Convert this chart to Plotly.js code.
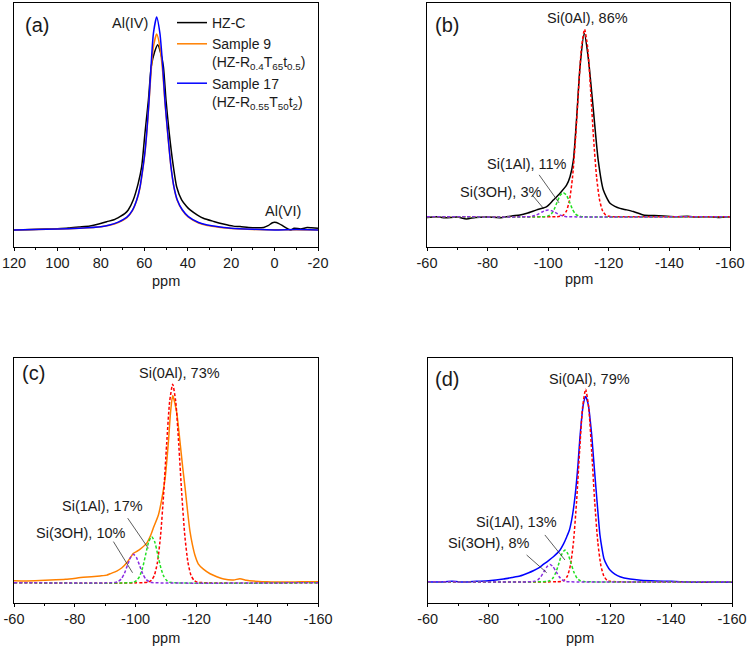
<!DOCTYPE html>
<html>
<head>
<meta charset="utf-8">
<script src="https://cdn.plot.ly/plotly-3.0.1.min.js"></script>
<style>
  html, body { margin: 0; padding: 0; background: #ffffff; }
  #chart { width: 750px; height: 650px; }
</style>
</head>
<body>
<div id="chart"></div>
<script>
// ---------- (a) 27Al MAS NMR ----------
const alPpmS = [120, 110, 100, 90, 80, 76, 72, 68, 65.5, 63.5, 62, 60.4, 59.6, 58.9, 57.8, 56.9, 55.8, 54.3, 52.8, 51.5, 50.5, 49.2, 47.7, 46.3, 44.8, 42.5, 39.7, 35, 31, 25, 20, 10, 0, -10, -20];
const alSample17 = [0.0, 0.002, 0.004, 0.008, 0.015, 0.023, 0.037, 0.06, 0.092, 0.141, 0.2, 0.31, 0.375, 0.454, 0.61, 0.767, 0.923, 1.0, 0.923, 0.767, 0.61, 0.454, 0.297, 0.2, 0.141, 0.095, 0.063, 0.035, 0.023, 0.014, 0.008, 0.003, 0.0, 0.002, 0.0];
const alSample9 = [0.0, 0.002, 0.004, 0.008, 0.015, 0.022, 0.035, 0.058, 0.09, 0.138, 0.197, 0.305, 0.37, 0.45, 0.6, 0.74, 0.86, 0.92, 0.86, 0.74, 0.6, 0.45, 0.295, 0.198, 0.138, 0.092, 0.06, 0.033, 0.021, 0.012, 0.007, 0.002, 0.001, 0.001, 0.0];
const alPpmC = [120, 112, 105, 100, 95, 90, 85, 81, 77.3, 74, 71.2, 69, 67.4, 65.1, 62.8, 61.2, 59.7, 58.1, 56.8, 55.3, 53.8, 52.3, 51.2, 50.0, 48.5, 46.6, 45.1, 42.8, 40.5, 38.9, 35.5, 32.8, 28, 23.6, 19, 15.9, 12, 8, 5, 3, 1, 0, -2, -4, -6, -7.5, -9, -12, -15, -17, -20];
const alHZC = [0.0, 0.002, 0.004, 0.006, 0.009, 0.014, 0.019, 0.028, 0.039, 0.048, 0.063, 0.077, 0.094, 0.141, 0.219, 0.297, 0.454, 0.61, 0.767, 0.835, 0.87, 0.825, 0.767, 0.61, 0.454, 0.297, 0.203, 0.141, 0.11, 0.094, 0.07, 0.055, 0.04, 0.028, 0.018, 0.016, 0.012, 0.01, 0.012, 0.02, 0.034, 0.036, 0.03, 0.018, 0.006, 0.0, 0.008, 0.005, 0.011, 0.01, 0.008];
const alTickVals = [120, 100, 80, 60, 40, 20, 0, -20];
const alTickText = ['120', '100', '80', '60', '40', '20', '0', '-20'];

// ---------- (b) HZ-C, 29Si ----------
const siPpmB = [-60, -63, -66, -70, -73, -76, -80, -84, -88, -90.7, -93, -96.2, -99.5, -101.7, -103.9, -106.1, -107.2, -108.3, -109.4, -110.5, -111.9, -113.2, -114.9, -116.5, -118.2, -120.4, -122, -123.7, -125.9, -128.1, -131.4, -135, -138, -142, -146, -149, -153, -156, -160];
const siHZC = [-0.004, 0.0, -0.006, -0.002, -0.012, -0.004, -0.002, -0.006, 0.004, 0.009, 0.018, 0.036, 0.053, 0.089, 0.125, 0.169, 0.213, 0.3, 0.53, 0.8, 0.978, 0.85, 0.57, 0.302, 0.142, 0.071, 0.055, 0.044, 0.036, 0.027, 0.009, 0.006, 0.004, 0.0, 0.002, -0.002, 0.0, -0.004, 0.0];
const fitPpm0AlB = [-60, -103, -104, -105, -106, -107, -108, -109, -110, -111, -112, -113, -114, -115, -116, -117, -118, -119, -120, -121, -160];
const fit0AlB = [0, 0, 0.002, 0.008, 0.029, 0.085, 0.206, 0.411, 0.674, 0.906, 1.0, 0.906, 0.674, 0.411, 0.206, 0.085, 0.029, 0.008, 0.002, 0, 0];
const fitPpm1AlB = [-60, -99, -100, -101, -102, -103, -104, -105, -106, -107, -108, -109, -110, -111, -160];
const fit1AlB = [0, 0, 0.004, 0.014, 0.04, 0.08, 0.115, 0.128, 0.115, 0.08, 0.04, 0.014, 0.004, 0, 0];
const fitPpm3OHB = [-60, -94, -95, -96, -97, -98, -99, -100, -101, -102, -103, -104, -105, -106, -160];
const fit3OHB = [0, 0, 0.003, 0.008, 0.016, 0.025, 0.032, 0.035, 0.032, 0.025, 0.016, 0.008, 0.003, 0, 0];

// ---------- (c) Sample 9, 29Si ----------
const siPpmC = [-60, -64, -68.5, -72, -77, -82.8, -88.3, -90.5, -91.6, -93.8, -95.5, -97.1, -99.3, -100.4, -101.4, -103.6, -105, -105.8, -107.5, -108.6, -109.7, -110.8, -111.5, -112.2, -113.5, -114.6, -115.5, -116.3, -117.1, -117.9, -118.7, -119.5, -120.6, -122.3, -124.5, -126.7, -129, -132.2, -134.3, -136.5, -138.7, -143, -148.6, -154, -160];
const siSample9 = [0.01, 0.009, 0.011, 0.013, 0.017, 0.027, 0.034, 0.038, 0.045, 0.058, 0.075, 0.1, 0.148, 0.158, 0.168, 0.198, 0.24, 0.274, 0.341, 0.42, 0.526, 0.711, 0.86, 0.943, 0.86, 0.711, 0.58, 0.475, 0.36, 0.257, 0.19, 0.139, 0.095, 0.068, 0.045, 0.03, 0.018, 0.013, 0.02, 0.012, 0.008, 0.005, 0.003, 0.004, 0.005];
const fitPpm0AlC = [-60, -104.2, -105.2, -106.2, -107.2, -108.2, -109.2, -110.2, -111.2, -112.2, -113.2, -114.2, -115.2, -116.2, -117.2, -118.2, -119.2, -120.2, -160];
const fit0AlC = [0, 0.003, 0.012, 0.038, 0.104, 0.235, 0.443, 0.696, 0.913, 1.0, 0.913, 0.696, 0.443, 0.235, 0.104, 0.038, 0.012, 0.003, 0];
const fitPpm1AlC = [-60, -99.3, -100.3, -101.3, -102.3, -103.3, -104.3, -105.3, -106.3, -107.3, -108.3, -109.3, -110.3, -111.3, -160];
const fit1AlC = [0, 0.002, 0.01, 0.031, 0.075, 0.141, 0.205, 0.232, 0.205, 0.141, 0.075, 0.031, 0.01, 0.002, 0];
const fitPpm3OHC = [-60, -93.3, -94.3, -95.3, -96.3, -97.3, -98.3, -99.3, -100.3, -101.3, -102.3, -103.3, -104.3, -105.3, -160];
const fit3OHC = [0, 0.001, 0.006, 0.019, 0.046, 0.087, 0.126, 0.143, 0.126, 0.087, 0.046, 0.019, 0.006, 0.001, 0];

// ---------- (d) Sample 17, 29Si ----------
const siPpmD = [-60, -64, -68, -72, -76, -80, -84.9, -87.7, -90.3, -93.2, -94.7, -96.5, -98, -99.7, -101.3, -103.5, -104.6, -105.7, -106.6, -107.3, -108, -108.7, -109.4, -110, -110.6, -111.1, -111.9, -112.8, -113.4, -113.9, -114.6, -115.3, -116, -116.6, -117.3, -117.9, -118.9, -119.9, -121.5, -123.2, -126.5, -130, -135, -140, -143, -148.5, -154, -160];
const siSample17 = [0.0, -0.002, 0.002, -0.002, 0.002, 0.005, 0.014, 0.022, 0.03, 0.047, 0.057, 0.072, 0.09, 0.11, 0.13, 0.165, 0.195, 0.234, 0.27, 0.32, 0.39, 0.485, 0.61, 0.745, 0.85, 0.918, 0.962, 0.918, 0.84, 0.762, 0.62, 0.485, 0.35, 0.243, 0.17, 0.121, 0.085, 0.061, 0.04, 0.026, 0.014, 0.008, 0.004, 0.002, 0.0, -0.003, -0.002, -0.003];
const fitPpm0AlD = [-60, -103.9, -104.9, -105.9, -106.9, -107.9, -108.9, -109.9, -110.9, -111.9, -112.9, -113.9, -114.9, -115.9, -116.9, -117.9, -118.9, -119.9, -160];
const fit0AlD = [0, 0.002, 0.008, 0.029, 0.085, 0.206, 0.411, 0.674, 0.906, 1.0, 0.906, 0.674, 0.411, 0.206, 0.085, 0.029, 0.008, 0.002, 0];
const fitPpm1AlD = [-60, -99.1, -100.1, -101.1, -102.1, -103.1, -104.1, -105.1, -106.1, -107.1, -108.1, -109.1, -110.1, -111.1, -160];
const fit1AlD = [0, 0.001, 0.005, 0.018, 0.048, 0.095, 0.144, 0.165, 0.144, 0.095, 0.048, 0.018, 0.005, 0.001, 0];
const fitPpm3OHD = [-60, -94.2, -95.2, -96.2, -97.2, -98.2, -99.2, -100.2, -101.2, -102.2, -103.2, -104.2, -105.2, -106.2, -160];
const fit3OHD = [0, 0, 0.003, 0.01, 0.026, 0.052, 0.078, 0.09, 0.078, 0.052, 0.026, 0.01, 0.003, 0, 0];
const siTickVals = [-60, -80, -100, -120, -140, -160];
const siTickText = ['-60', '-80', '-100', '-120', '-140', '-160'];

// Legend labels and peak labels
const legendNames = ['HZ-C', 'Sample 9<br>(HZ-R<sub>0.4</sub>T<sub>65</sub>t<sub>0.5</sub>)', 'Sample 17<br>(HZ-R<sub>0.55</sub>T<sub>50</sub>t<sub>2</sub>)'];
const shares = {b: ['86%', '11%', '3%'], c: ['73%', '17%', '10%'], d: ['79%', '13%', '8%']};
const axisTitle = 'ppm';

const FONT = 'Liberation Sans, Arial, Helvetica, sans-serif';
const TXT = '#1a1a1a';
const C_BLACK = '#000000', C_ORANGE = '#ff8000', C_BLUE = '#0000ff';
const C_RED = '#ff0000', C_GREEN = '#22e022', C_PURPLE = '#8a2be2';

function curve(x, y, ax, color, opts = {}) {
  return Object.assign({
    type: 'scatter', mode: 'lines', x: x, y: y,
    xaxis: 'x' + (ax === 1 ? '' : ax), yaxis: 'y' + (ax === 1 ? '' : ax),
    line: {color: color, width: 1.5, shape: 'spline', smoothing: 0.6},
    showlegend: false, hoverinfo: 'skip'
  }, opts);
}
function fit(x, y, ax, color) {
  return curve(x, y, ax, color, {line: {color: color, width: 1.5, dash: '3px,2px', shape: 'spline', smoothing: 0.6}});
}

const traces = [
  curve(alPpmC, alHZC, 1, C_BLACK, {showlegend: true, name: legendNames[0]}),
  curve(alPpmS, alSample9, 1, C_ORANGE, {showlegend: true, name: legendNames[1]}),
  curve(alPpmS, alSample17, 1, C_BLUE, {showlegend: true, name: legendNames[2]}),

  curve(siPpmB, siHZC, 2, C_BLACK),
  fit(fitPpm0AlB, fit0AlB, 2, C_RED),
  fit(fitPpm1AlB, fit1AlB, 2, C_GREEN),
  fit(fitPpm3OHB, fit3OHB, 2, C_PURPLE),

  curve(siPpmC, siSample9, 3, C_ORANGE),
  fit(fitPpm0AlC, fit0AlC, 3, C_RED),
  fit(fitPpm1AlC, fit1AlC, 3, C_GREEN),
  fit(fitPpm3OHC, fit3OHC, 3, C_PURPLE),

  curve(siPpmD, siSample17, 4, C_BLUE),
  fit(fitPpm0AlD, fit0AlD, 4, C_RED),
  fit(fitPpm1AlD, fit1AlD, 4, C_GREEN),
  fit(fitPpm3OHD, fit3OHD, 4, C_PURPLE)
];

function xAxis(domain, range, anchor, tickvals, ticktext) {
  return {
    domain: domain, range: range, anchor: anchor,
    showline: true, linecolor: '#000', linewidth: 1, mirror: true,
    ticks: 'outside', ticklen: 3, tickwidth: 1, tickcolor: '#000',
    tickmode: 'array', tickvals: tickvals, ticktext: ticktext,
    minor: {dtick: 10, tick0: 0, ticks: 'outside', ticklen: 2, tickcolor: '#000'},
    showgrid: false, zeroline: false,
    tickfont: {family: FONT, size: 14.5, color: TXT}
  };
}
function yAxis(domain, range, anchor) {
  return {
    domain: domain, range: range, anchor: anchor,
    showline: true, linecolor: '#000', linewidth: 1, mirror: true,
    ticks: '', showticklabels: false, showgrid: false, zeroline: false
  };
}

const domA = [14 / 750, 318 / 750], domB = [427 / 750, 730 / 750];
const domC = [14 / 750, 318 / 750], domD = [427.7 / 750, 732 / 750];
const topDom = [1 - 247 / 650, 1 - 3 / 650];
const botDom = [1 - 602.7 / 650, 1 - 357.7 / 650];

function label(text, x, y, ax, size) {
  return {
    text: text, x: x, y: y, xref: 'x' + (ax === 1 ? '' : ax), yref: 'y' + (ax === 1 ? '' : ax),
    showarrow: false, xanchor: 'center', yanchor: 'middle',
    font: {family: FONT, size: size || 14.5, color: TXT}
  };
}
// axis title placed under each panel's tick labels
function axisLabel(dom, yPix) {
  return {
    text: axisTitle, x: (dom[0] + dom[1]) / 2, y: 1 - yPix / 650, xref: 'paper', yref: 'paper',
    showarrow: false, xanchor: 'center', yanchor: 'middle',
    font: {family: FONT, size: 14.5, color: TXT}
  };
}
function leader(x0, y0, x1, y1, ax) {
  return {
    type: 'line', x0: x0, y0: y0, x1: x1, y1: y1,
    xref: 'x' + ax, yref: 'y' + ax,
    line: {color: '#333', width: 0.8}
  };
}

const annotations = [
  label('(a)', 109.5, 0.962, 1, 20),
  label('Al(IV)', 66.6, 0.973, 1),
  label('Al(VI)', -3.9, 0.091, 1),

  label('(b)', -66.5, 1.023, 2, 20),
  label('Si(0Al), ' + shares.b[0], -112.9, 1.059, 2),
  label('Si(1Al), ' + shares.b[1], -92.9, 0.281, 2),
  label('Si(3OH), ' + shares.b[2], -84.1, 0.133, 2),

  label('(c)', -66.3, 1.055, 3, 20),
  label('Si(0Al), ' + shares.c[0], -114.3, 1.055, 3),
  label('Si(1Al), ' + shares.c[1], -89.0, 0.388, 3),
  label('Si(3OH), ' + shares.c[2], -82.0, 0.249, 3),

  label('(d)', -66.2, 1.052, 4, 20),
  label('Si(0Al), ' + shares.d[0], -113.1, 1.052, 4),
  label('Si(1Al), ' + shares.d[1], -89.2, 0.312, 4),
  label('Si(3OH), ' + shares.d[2], -79.9, 0.2, 4),

  axisLabel(domA, 281),
  axisLabel(domB, 279),
  axisLabel(domC, 638),
  axisLabel(domD, 638)
];

const shapes = [
  leader(-97.0, 0.223, -103.6, 0.073, 2),
  leader(-94.7, 0.116, -98.6, 0.041, 2),
  leader(-97.4, 0.325, -104.2, 0.173, 3),
  leader(-92.7, 0.207, -99.0, 0.05, 3),
  leader(-98.5, 0.243, -105.1, 0.113, 4),
  leader(-92.5, 0.139, -99.1, 0.047, 4)
];

const layout = {
  width: 750, height: 650,
  margin: {l: 0, r: 0, t: 0, b: 0},
  paper_bgcolor: '#ffffff', plot_bgcolor: '#ffffff',
  font: {family: FONT, color: TXT},
  showlegend: true,
  legend: {
    x: 172 / 750, y: 1 - 7 / 650, xanchor: 'left', yanchor: 'top',
    bgcolor: 'rgba(0,0,0,0)', borderwidth: 0,
    font: {family: FONT, size: 14, color: TXT},
    valign: 'top', tracegroupgap: 0, itemwidth: 30
  },
  xaxis: xAxis(domA, [120, -20], 'y', alTickVals, alTickText),
  yaxis: yAxis(topDom, [-0.08, 1.066], 'x'),
  xaxis2: xAxis(domB, [-60, -160], 'y2', siTickVals, siTickText),
  yaxis2: yAxis(topDom, [-0.162, 1.14], 'x2'),
  xaxis3: xAxis(domC, [-60, -160], 'y3', siTickVals, siTickText),
  yaxis3: yAxis(botDom, [-0.101, 1.134], 'x3'),
  xaxis4: xAxis(domD, [-60, -160], 'y4', siTickVals, siTickText),
  yaxis4: yAxis(botDom, [-0.109, 1.164], 'x4'),
  annotations: annotations,
  shapes: shapes
};

Plotly.newPlot('chart', traces, layout, {staticPlot: true, displayModeBar: false});
</script>
</body>
</html>
